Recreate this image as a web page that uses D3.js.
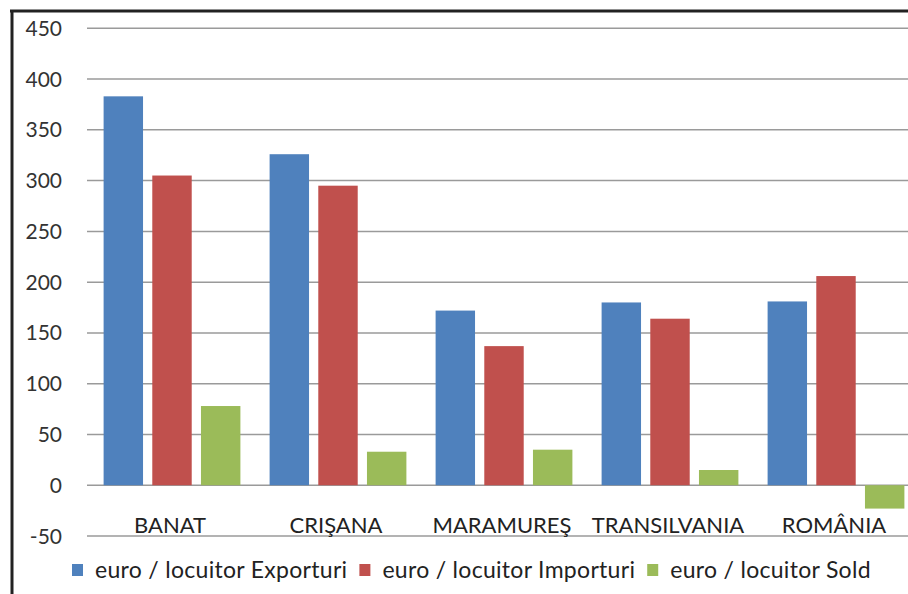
<!DOCTYPE html>
<html>
<head>
<meta charset="utf-8">
<script src="https://cdn.jsdelivr.net/npm/d3@7"></script>
<style>
  body { margin: 0; background: #fff; }
  svg { display: block; }
</style>
</head>
<body>
<svg id="chart" width="908" height="594"></svg>
<script>
// data
const regions = ["BANAT", "CRIŞANA", "MARAMUREŞ", "TRANSILVANIA", "ROMÂNIA"];
const seriesNames = ["euro / locuitor Exporturi", "euro / locuitor Importuri", "euro / locuitor Sold"];
const exporturi = [383, 326, 172, 180, 181];
const importuri = [305, 295, 137, 164, 206];
const sold = [78, 33, 35, 15, -23];
const yTicks = [-50, 0, 50, 100, 150, 200, 250, 300, 350, 400, 450];

const colors = ["#4f81bd", "#c0504d", "#9bbb59"];
const font = "Lato, 'Open Sans', sans-serif";

const svg = d3.select("svg#chart");

const rows = regions.map((r, i) => ({
    region: r,
    values: [exporturi[i], importuri[i], sold[i]]
}));

// scales
const x0 = d3.scaleBand()
    .domain(regions)
    .range([89, 919]);

const x1 = d3.scaleBand()
    .domain(d3.range(seriesNames.length))
    .range([0, x0.bandwidth()])
    .paddingInner(0.19)
    .paddingOuter(0.3);

const y = d3.scaleLinear()
    .domain([-50, 450])
    .range([536, 28.3]);

// frame
svg.append("line")
    .attr("x1", 10).attr("x2", 908)
    .attr("y1", 11).attr("y2", 11)
    .style("stroke", "#222")
    .style("stroke-width", 3);
svg.append("line")
    .attr("x1", 12).attr("x2", 12)
    .attr("y1", 10).attr("y2", 594)
    .style("stroke", "#222")
    .style("stroke-width", 3);

// gridlines
svg.append("g")
    .selectAll("line")
    .data(yTicks)
    .join("line")
        .attr("x1", 87).attr("x2", 908)
        .attr("y1", d => y(d)).attr("y2", d => y(d))
        .style("stroke", "#9a9a9a")
        .style("stroke-width", 1.5);

// y tick labels
svg.append("g")
    .selectAll("text")
    .data(yTicks)
    .join("text")
        .attr("x", 62)
        .attr("y", d => y(d))
        .attr("dy", "0.36em")
        .attr("text-anchor", "end")
        .style("font-family", font)
        .style("font-size", "21px")
        .style("fill", "#333")
        .text(d => d);

// bars
const groups = svg.append("g")
    .selectAll("g")
    .data(rows)
    .join("g")
        .attr("transform", d => `translate(${x0(d.region)},0)`);

groups.selectAll("rect")
    .data(d => d.values)
    .join("rect")
        .attr("x", (d, i) => x1(i))
        .attr("width", x1.bandwidth())
        .attr("y", d => y(Math.max(0, d)))
        .attr("height", d => Math.abs(y(d) - y(0)))
        .attr("fill", (d, i) => colors[i]);

// category labels
svg.append("g")
    .selectAll("text")
    .data(regions)
    .join("text")
        .attr("x", d => x0(d) + x0.bandwidth() / 2 - 2)
        .attr("y", 533)
        .attr("text-anchor", "middle")
        .style("font-family", font)
        .style("font-size", "22px")
        .style("fill", "#222")
        .text(d => d);

// legend
const legend = svg.append("g");
let lx = 72;
seriesNames.forEach((name, i) => {
    legend.append("rect")
        .attr("x", lx).attr("y", 564)
        .attr("width", 11).attr("height", 12)
        .attr("fill", colors[i]);
    const t = legend.append("text")
        .attr("x", lx + 23)
        .attr("y", 578)
        .style("font-family", font)
        .style("font-size", "23px")
        .style("letter-spacing", "0.3px")
        .style("fill", "#222")
        .text(name);
    lx += 23 + t.node().getComputedTextLength() + 12;
});
</script>
</body>
</html>
